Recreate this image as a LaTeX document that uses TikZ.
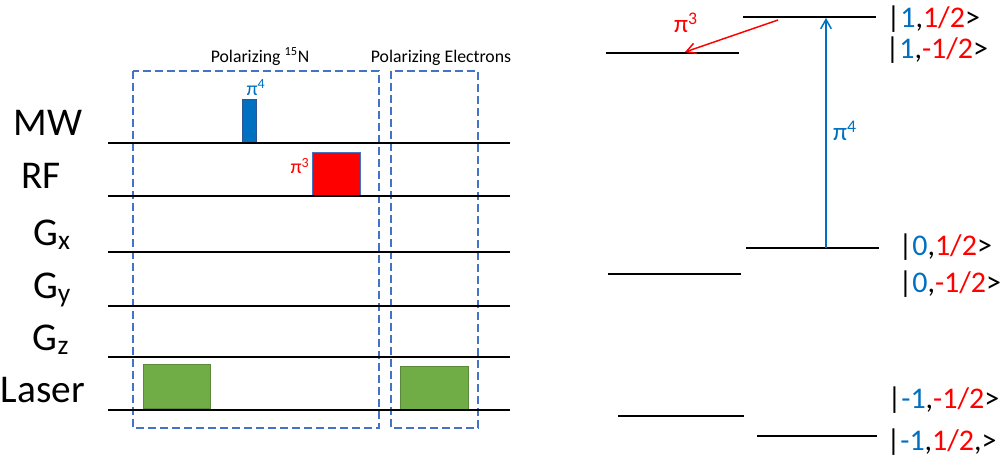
\documentclass[tikz,border=0pt]{standalone}
\usepackage{fontspec}
\setmainfont{Carlito}
\usetikzlibrary{arrows.meta}

\definecolor{ppblue}{RGB}{0,112,192}
\definecolor{ppred}{RGB}{255,0,0}
\definecolor{ppgreen}{RGB}{112,173,71}
\definecolor{boxblue}{RGB}{68,114,196}
\definecolor{edgeblue}{RGB}{47,85,151}

\newcommand{\ketlabel}[2]{|\textcolor{ppblue}{#1},\textcolor{ppred}{#2}>}

\tikzset{every picture/.style={line width=0.75pt}}
\tikzset{
  chan/.style={line width=1.9pt},
  chanlabel/.style={font=\fontsize{29.5}{34}\selectfont, anchor=base, inner sep=0pt},
  stagebox/.style={draw=boxblue, dash pattern=on 6pt off 3pt, line width=0.9pt},
  stagelabel/.style={font=\fontsize{13.3}{16}\selectfont, anchor=base, inner sep=0pt},
  level/.style={line width=1.9pt},
  ket/.style={font=\fontsize{22.5}{27}\selectfont, anchor=base west, inner sep=0pt},
  pulselabel/.style={font=\fontsize{15}{18}\selectfont, inner sep=0pt},
  translabel/.style={font=\fontsize{19}{22}\selectfont, inner sep=0pt},
  trans/.style={line width=1.1pt, -{Straight Barb[length=7pt,width=8pt]}},
}

\begin{document}
\begin{tikzpicture}[x=0.75pt,y=0.75pt,yscale=-1,xscale=1]
	\useasboundingbox (0,0) rectangle (1000,457);

	%Stage boxes
	\draw[stagebox] (133,71) rectangle (379,428);
	\draw[stagebox] (391,71) rectangle (478,428);
	\node[stagelabel] (stagen) at (260,62) {Polarizing \textsuperscript{15}N};
	\node[stagelabel] (stagee) at (441,62) {Polarizing Electrons};

	%Pulses
	\draw[draw=edgeblue, fill=ppblue] (242,99) rectangle (256,143);
	\draw[draw=boxblue, fill=ppred] (312,152) rectangle (360,196);
	\draw[draw=ppgreen!80!black, fill=ppgreen] (143,364) rectangle (210,408);
	\draw[draw=ppgreen!80!black, fill=ppgreen] (400,366) rectangle (468,410);

	%Channel lines
	\draw[chan] (108,143) -- (510,143);
	\draw[chan] (108,196) -- (510,196);
	\draw[chan] (108,252) -- (510,252);
	\draw[chan] (108,306) -- (510,306);
	\draw[chan] (108,357) -- (510,357);
	\draw[chan] (108,410) -- (510,410);

	% Text Node
	\node[chanlabel] (mw) at (48,135) {MW};
	\node[chanlabel] (rf) at (41,188) {RF};
	\node[chanlabel] (gx) at (52,245) {G\textsubscript{x}};
	\node[chanlabel] (gy) at (52,298) {G\textsubscript{y}};
	\node[chanlabel] (gz) at (51,350) {G\textsubscript{z}};
	\node[chanlabel] (laser) at (43,402) {Laser};
	% Text Node
	\node[pulselabel, text=ppblue] (mwpi) at (256,88) {π\textsuperscript{4}};
	\node[pulselabel, text=ppred] (rfpi) at (300,166) {π\textsuperscript{3}};

	%Energy levels
	\coordinate (upA) at (743,17);  \coordinate (upB) at (876,17);
	\coordinate (umA) at (606,53);  \coordinate (umB) at (739,53);
	\coordinate (zpA) at (746,248); \coordinate (zpB) at (879,248);
	\coordinate (zmA) at (608,274); \coordinate (zmB) at (741,274);
	\coordinate (dmA) at (618,416); \coordinate (dmB) at (744,416);
	\coordinate (dpA) at (757,436); \coordinate (dpB) at (877,436);
	\draw[level] (upA) -- (upB);
	\draw[level] (umA) -- (umB);
	\draw[level] (zpA) -- (zpB);
	\draw[level] (zmA) -- (zmB);
	\draw[level] (dmA) -- (dmB);
	\draw[level] (dpA) -- (dpB);

	%Transitions
	\coordinate (p4s) at (826,248);
	\coordinate (p4e) at (826,18);
	\coordinate (p3s) at (778,20);
	\coordinate (p3e) at (685,52);
	\draw[trans, ppblue] (p4s) -- (p4e);
	\draw[trans, ppred] (p3s) -- (p3e);
	\node[translabel, text=ppblue] (trpi4) at (845,131) {π\textsuperscript{4}};
	\node[translabel, text=ppred] (trpi3) at (686,23) {π\textsuperscript{3}};

	% Text Node
	\node[ket] (k1) at (886,27) {\ketlabel{1}{1/2}};
	\node[ket] (k2) at (885,58) {\ketlabel{1}{-1/2}};
	\node[ket] (k3) at (898,255) {\ketlabel{0}{1/2}};
	\node[ket] (k4) at (898,292) {\ketlabel{0}{-1/2}};
	\node[ket] (k5) at (887,408) {\ketlabel{-1}{-1/2}};
	\node[ket] (k6) at (886,450) {|\textcolor{ppblue}{-1},\textcolor{ppred}{1/2},>};

\end{tikzpicture}
\end{document}
